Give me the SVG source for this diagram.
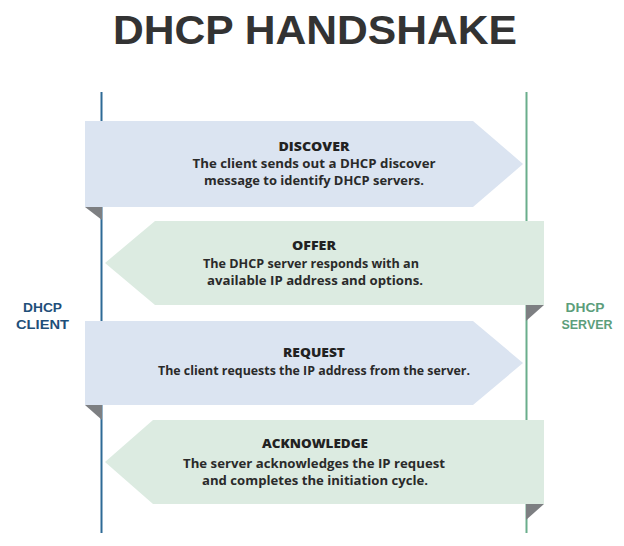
<svg xmlns="http://www.w3.org/2000/svg" width="624" height="546" viewBox="0 0 624 546">
<style>
.title{font-family:"Liberation Sans",Arial,sans-serif;font-weight:bold;font-size:40px;fill:#333333}
.lane{font-family:"Liberation Sans",Arial,sans-serif;font-weight:bold;font-size:13px;text-anchor:middle}
.h{font-family:"Open Sans","Liberation Sans",sans-serif;font-weight:800;font-size:12px;fill:#222222;text-anchor:middle}
.d{font-family:"Open Sans","Liberation Sans",sans-serif;font-weight:700;font-size:12.5px;fill:#2a2a2a;text-anchor:middle}
.blue{fill:#dbe4f1}
.green{fill:#dcebe1}
.fold{fill:#7d7f82}
</style>
<rect width="624" height="546" fill="#ffffff"/>
<text class="title" x="113" y="44" textLength="404" lengthAdjust="spacingAndGlyphs">DHCP HANDSHAKE</text>
<g id="connectors">
<line x1="101.5" y1="92" x2="101.5" y2="533" stroke="#2e6a96" stroke-width="2"/>
<line x1="526.5" y1="92" x2="526.5" y2="533" stroke="#6aae8c" stroke-width="2"/>
</g>
<g id="client">
<text class="lane" x="42.5" y="312" fill="#1f4f7a" textLength="39" lengthAdjust="spacingAndGlyphs">DHCP</text>
<text class="lane" x="42.5" y="329" fill="#1f4f7a" textLength="53" lengthAdjust="spacingAndGlyphs">CLIENT</text>
</g>
<g id="server">
<text class="lane" x="585" y="312" fill="#5c9e7b" textLength="39" lengthAdjust="spacingAndGlyphs">DHCP</text>
<text class="lane" x="587" y="329" fill="#5c9e7b" textLength="51" lengthAdjust="spacingAndGlyphs">SERVER</text>
</g>
<g id="discover">
<polygon class="blue" points="85,121 473,121 523,164 473,207 85,207"/>
<polygon class="fold" points="85,207 102,207 102,220"/>
<text class="h" x="314" y="151" textLength="71" lengthAdjust="spacingAndGlyphs">DISCOVER</text>
<text class="d" x="314" y="168" textLength="243" lengthAdjust="spacingAndGlyphs">The client sends out a DHCP discover</text>
<text class="d" x="314" y="185" textLength="220" lengthAdjust="spacingAndGlyphs">message to identify DHCP servers.</text>
</g>
<g id="offer">
<polygon class="green" points="544,221 155,221 105,263 155,305 544,305"/>
<polygon class="fold" points="526,305 544,305 526,321"/>
<text class="h" x="314" y="250" textLength="44" lengthAdjust="spacingAndGlyphs">OFFER</text>
<text class="d" x="311" y="268" textLength="216" lengthAdjust="spacingAndGlyphs">The DHCP server responds with an</text>
<text class="d" x="315" y="285" textLength="216" lengthAdjust="spacingAndGlyphs">available IP address and options.</text>
</g>
<g id="request">
<polygon class="blue" points="85,321 473,321 523,363 473,405 85,405"/>
<polygon class="fold" points="85,405 102,405 102,420"/>
<text class="h" x="314" y="357" textLength="62" lengthAdjust="spacingAndGlyphs">REQUEST</text>
<text class="d" x="314" y="375" textLength="312" lengthAdjust="spacingAndGlyphs">The client requests the IP address from the server.</text>
</g>
<g id="acknowledge">
<polygon class="green" points="544,420 153,420 105,462 153,504 544,504"/>
<polygon class="fold" points="526,504 544,504 526,520"/>
<text class="h" x="315" y="448" textLength="106" lengthAdjust="spacingAndGlyphs">ACKNOWLEDGE</text>
<text class="d" x="314" y="468" textLength="262" lengthAdjust="spacingAndGlyphs">The server acknowledges the IP request</text>
<text class="d" x="315" y="485" textLength="226" lengthAdjust="spacingAndGlyphs">and completes the initiation cycle.</text>
</g>
</svg>
